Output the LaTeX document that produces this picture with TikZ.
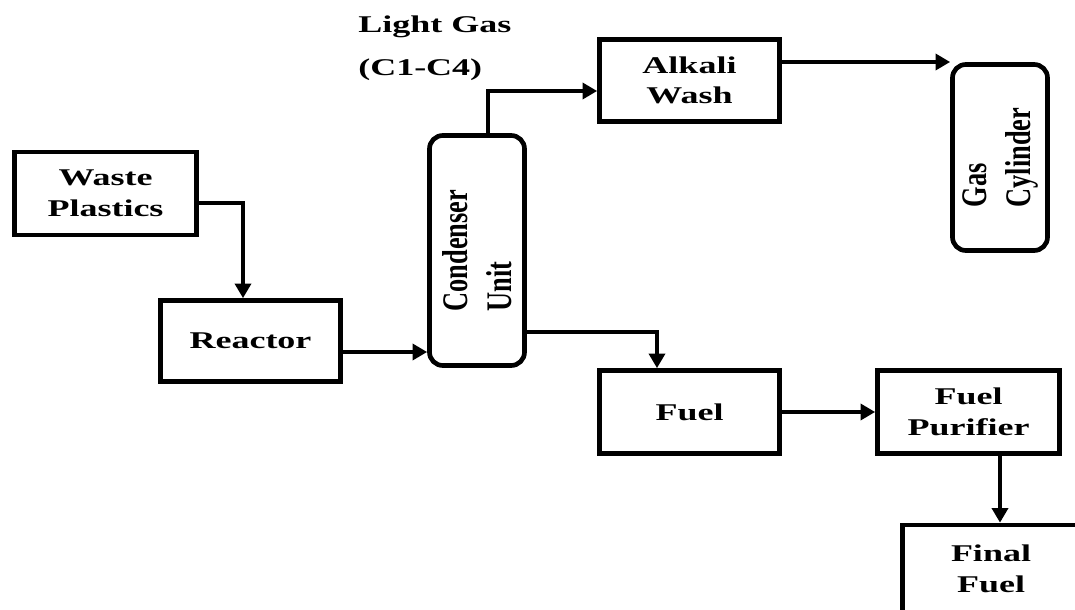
\documentclass[tikz,border=0pt]{standalone}
\usepackage{fontspec}
\setmainfont{Liberation Serif}
\newfontfamily\widef[FakeStretch=1.5]{Liberation Serif}
\newfontfamily\narrowf[FakeStretch=0.733]{Liberation Serif}
\usetikzlibrary{arrows.meta}
\begin{document}
\begin{tikzpicture}[x=0.75pt,y=-0.75pt,
  box/.style={draw, line width=3.5pt, inner sep=0pt, align=center,
    font=\widef\bfseries\fontsize{18}{23}\selectfont},
  vbox/.style={draw, line width=3.5pt, inner sep=0pt, align=left, rotate=90,
    rounded corners=10pt, font=\narrowf\bfseries\fontsize{27}{33}\selectfont},
  lbl/.style={inner sep=0pt, anchor=base west,
    font=\widef\bfseries\fontsize{18}{23}\selectfont},
  arr/.style={line width=3pt, -{Triangle[length=11pt,width=12pt]}}]
\useasboundingbox (0,0) rectangle (1075,610);
\clip (0,0) rectangle (1075,610);
% boxes
\node[box, minimum width=136.5pt, minimum height=62.25pt] (waste) at (105.5,193.5) {Waste\\Plastics};
\node[box, minimum width=135pt, minimum height=60.75pt] (reactor) at (250.5,341) {Reactor};
\node[vbox, minimum width=172.5pt, minimum height=71.25pt] (condenser) at (477,250.5) {Condenser\\Unit};
\node[box, minimum width=135pt, minimum height=61.5pt] (alkali) at (689.5,80.5) {Alkali\\Wash};
\node[vbox, minimum width=139.5pt, minimum height=71.25pt] (cylinder) at (1000,157.5) {Gas\\Cylinder};
\node[box, minimum width=135pt, minimum height=62.25pt] (fuel) at (689.5,412) {Fuel};
\node[box, minimum width=136.5pt, minimum height=62.25pt] (purifier) at (968.5,412) {Fuel\\Purifier};
\node[box, minimum width=133pt, minimum height=65.25pt] (final) at (991,568.5) {Final\\Fuel};
% labels
\node[lbl] (lg) at (358,33) {Light Gas};
\node[lbl] (c14) at (358,75) {(C1-C4)};
% junction coordinates
\coordinate (j1) at (243,203);
\coordinate (j2) at (0,352);
\coordinate (j3) at (488,91);
\coordinate (j4) at (0,62);
\coordinate (j5) at (657,332);
\coordinate (j7) at (1000,0);
% connectors (rotated nodes: north = left side, south = right side, east = top)
\draw[arr] (waste.east |- j1) -| (reactor.north -| j1);
\draw[arr] (reactor.east |- j2) -- (condenser.north |- j2);
\draw[arr] (condenser.east -| j3) |- (alkali.west |- j3);
\draw[arr] (alkali.east |- j4) -- (cylinder.north |- j4);
\draw[arr] (condenser.south |- j5) -| (fuel.north -| j5);
\draw[arr] (fuel.east) -- (purifier.west);
\draw[arr] (purifier.south -| j7) -- (final.north -| j7);
\end{tikzpicture}
\end{document}
